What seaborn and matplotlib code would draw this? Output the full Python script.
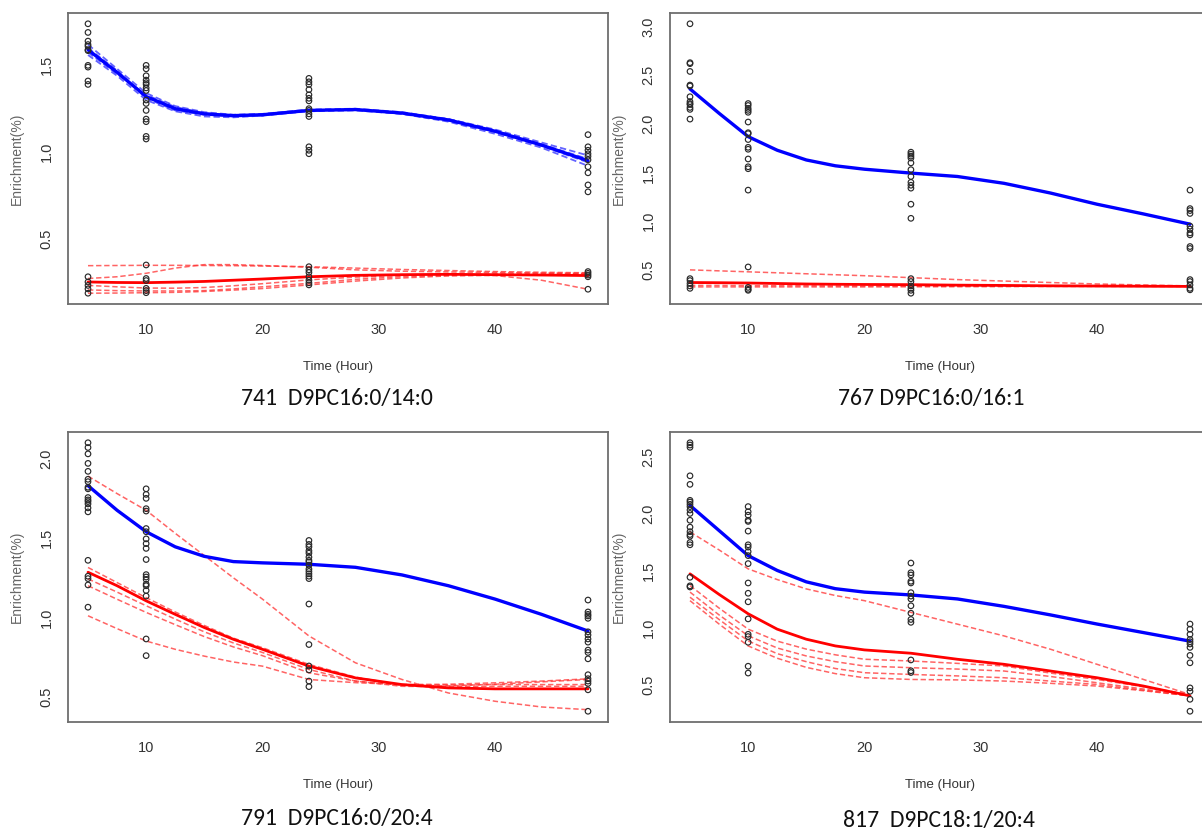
import matplotlib
matplotlib.use("Agg")
import matplotlib.pyplot as plt
import numpy as np
import pandas as pd
import seaborn as sns
from matplotlib import font_manager

# ---- sampling times -------------------------------------------------------
HOURS = [5, 10, 24, 48]
CURVE_T = [5, 7.5, 10, 12.5, 15, 17.5, 20, 24, 28, 32, 36, 40, 44, 48]
X_TICKS = [10, 20, 30, 40]

# ---- 741  D9PC16:0/14:0 ---------------------------------------------------
P741_H5 = [1.74, 1.69, 1.64, 1.62, 1.61, 1.59, 1.585, 1.50, 1.49, 1.41, 1.39,
           0.28, 0.25, 0.23, 0.21, 0.185]
P741_H10 = [1.50, 1.48, 1.44, 1.415, 1.40, 1.39, 1.37, 1.355, 1.30, 1.28, 1.24,
            1.19, 1.175, 1.09, 1.075, 0.348, 0.27, 0.258, 0.213, 0.20, 0.188]
P741_H24 = [1.425, 1.405, 1.39, 1.36, 1.33, 1.31, 1.295, 1.25, 1.24, 1.22, 1.205,
            1.03, 1.01, 0.99, 0.338, 0.32, 0.305, 0.28, 0.26, 0.245, 0.233]
P741_H48 = [1.10, 1.03, 1.01, 0.99, 0.975, 0.955, 0.915, 0.88, 0.81, 0.77,
            0.31, 0.30, 0.29, 0.28, 0.208]
P741_BLUE = [1.59, 1.46, 1.32, 1.25, 1.22, 1.21, 1.215, 1.24, 1.245, 1.225, 1.185, 1.12, 1.04, 0.95]
P741_BLUE_DASH = [
    [1.62, 1.48, 1.34, 1.265, 1.23, 1.215, 1.22, 1.245, 1.25, 1.23, 1.19, 1.13, 1.055, 0.98],
    [1.56, 1.44, 1.30, 1.235, 1.205, 1.20, 1.21, 1.235, 1.24, 1.22, 1.175, 1.105, 1.025, 0.92],
    [1.60, 1.47, 1.31, 1.24, 1.215, 1.205, 1.21, 1.24, 1.245, 1.225, 1.19, 1.125, 1.045, 0.96],
    [1.575, 1.45, 1.33, 1.26, 1.225, 1.21, 1.215, 1.24, 1.245, 1.22, 1.18, 1.115, 1.035, 0.94],
]
P741_RED = [0.25, 0.247, 0.246, 0.249, 0.253, 0.26, 0.267, 0.28, 0.288, 0.292, 0.294, 0.292, 0.29, 0.287]
P741_RED_DASH = [
    [0.344, 0.345, 0.346, 0.346, 0.345, 0.344, 0.342, 0.338, 0.33, 0.322, 0.316, 0.31, 0.306, 0.303],
    [0.204, 0.20, 0.198, 0.198, 0.20, 0.21, 0.222, 0.242, 0.265, 0.281, 0.288, 0.287, 0.26, 0.208],
    [0.185, 0.186, 0.188, 0.19, 0.195, 0.203, 0.212, 0.233, 0.255, 0.273, 0.285, 0.29, 0.295, 0.298],
    [0.23, 0.222, 0.215, 0.214, 0.218, 0.228, 0.24, 0.262, 0.278, 0.288, 0.293, 0.296, 0.296, 0.295],
    [0.27, 0.28, 0.30, 0.33, 0.35, 0.35, 0.345, 0.335, 0.32, 0.312, 0.308, 0.305, 0.302, 0.30],
]
P741_YTICKS = [0.5, 1.0, 1.5]

# ---- 767 D9PC16:0/16:1 ----------------------------------------------------
P767_H5 = [3.03, 2.63, 2.62, 2.54, 2.40, 2.39, 2.28, 2.23, 2.21, 2.20, 2.17, 2.15, 2.05,
           0.41, 0.39, 0.36, 0.335, 0.31]
P767_H10 = [2.21, 2.19, 2.16, 2.14, 2.12, 2.02, 1.91, 1.90, 1.84, 1.76, 1.74, 1.64, 1.56,
            1.54, 1.32, 0.53, 0.32, 0.30, 0.29]
P767_H24 = [1.71, 1.69, 1.67, 1.65, 1.60, 1.53, 1.46, 1.40, 1.37, 1.34, 1.175, 1.03,
            0.41, 0.38, 0.335, 0.31, 0.29, 0.26]
P767_H48 = [1.32, 1.13, 1.11, 1.08, 0.95, 0.92, 0.88, 0.86, 0.74, 0.72,
            0.40, 0.38, 0.345, 0.31, 0.295]
P767_BLUE = [2.36, 2.11, 1.87, 1.73, 1.63, 1.57, 1.535, 1.495, 1.46, 1.39, 1.29, 1.175, 1.075, 0.97]
P767_BLUE_DASH = []
P767_RED = [0.37, 0.368, 0.365, 0.36, 0.355, 0.352, 0.35, 0.348, 0.343, 0.34, 0.336, 0.334, 0.332, 0.33]
P767_RED_DASH = [
    [0.50, 0.49, 0.48, 0.47, 0.46, 0.45, 0.44, 0.42, 0.40, 0.385, 0.37, 0.355, 0.345, 0.335],
    [0.325, 0.325, 0.325, 0.325, 0.325, 0.325, 0.325, 0.326, 0.327, 0.328, 0.33, 0.33, 0.33, 0.33],
    [0.34, 0.34, 0.338, 0.337, 0.336, 0.335, 0.334, 0.333, 0.333, 0.334, 0.335, 0.337, 0.336, 0.335],
]
P767_YTICKS = [0.5, 1.0, 1.5, 2.0, 2.5, 3.0]

# ---- 791  D9PC16:0/20:4 ---------------------------------------------------
P791_H5 = [2.10, 2.07, 2.03, 1.97, 1.92, 1.87, 1.855, 1.82, 1.81, 1.755, 1.74, 1.73, 1.715,
           1.69, 1.665, 1.36, 1.26, 1.245, 1.205, 1.065]
P791_H10 = [1.81, 1.775, 1.75, 1.685, 1.67, 1.56, 1.54, 1.495, 1.465, 1.435, 1.365, 1.27,
            1.255, 1.24, 1.21, 1.20, 1.17, 1.135, 0.865, 0.76]
P791_H24 = [1.485, 1.46, 1.445, 1.42, 1.405, 1.38, 1.36, 1.35, 1.33, 1.305, 1.29, 1.275,
            1.26, 1.245, 1.085, 0.83, 0.695, 0.67, 0.60, 0.565]
P791_H48 = [1.11, 1.035, 1.02, 1.01, 0.995, 0.91, 0.89, 0.865, 0.845, 0.795, 0.78, 0.74,
            0.64, 0.615, 0.60, 0.585, 0.545, 0.41]
P791_BLUE = [1.83, 1.675, 1.54, 1.445, 1.385, 1.352, 1.344, 1.335, 1.316, 1.268, 1.20, 1.116, 1.02, 0.915]
P791_BLUE_DASH = []
P791_RED = [1.285, 1.20, 1.105, 1.02, 0.937, 0.863, 0.80, 0.694, 0.62, 0.578, 0.557, 0.551, 0.551, 0.551]
P791_RED_DASH = [
    [1.89, 1.78, 1.675, 1.53, 1.39, 1.25, 1.116, 0.884, 0.715, 0.61, 0.525, 0.473, 0.437, 0.42],
    [1.315, 1.22, 1.125, 1.035, 0.95, 0.87, 0.81, 0.705, 0.625, 0.575, 0.57, 0.58, 0.595, 0.61],
    [1.243, 1.16, 1.074, 0.99, 0.91, 0.84, 0.78, 0.673, 0.60, 0.567, 0.565, 0.567, 0.567, 0.567],
    [1.20, 1.115, 1.032, 0.955, 0.88, 0.815, 0.76, 0.652, 0.60, 0.575, 0.575, 0.578, 0.578, 0.578],
    [1.011, 0.93, 0.852, 0.80, 0.757, 0.72, 0.694, 0.61, 0.59, 0.578, 0.58, 0.589, 0.60, 0.614],
]
P791_YTICKS = [0.5, 1.0, 1.5, 2.0]

# ---- 817  D9PC18:1/20:4 ---------------------------------------------------
P817_H5 = [2.62, 2.60, 2.58, 2.33, 2.255, 2.115, 2.10, 2.08, 2.06, 2.03, 2.00, 1.94, 1.88,
           1.84, 1.815, 1.80, 1.745, 1.725, 1.44, 1.365, 1.355]
P817_H10 = [2.06, 2.015, 1.985, 1.94, 1.93, 1.845, 1.725, 1.705, 1.665, 1.63, 1.56, 1.39,
            1.30, 1.225, 1.075, 0.94, 0.92, 0.87, 0.66, 0.60]
P817_H24 = [1.565, 1.48, 1.46, 1.405, 1.39, 1.305, 1.275, 1.25, 1.19, 1.125, 1.07, 1.045,
            0.715, 0.62, 0.605]
P817_H48 = [1.03, 0.985, 0.94, 0.895, 0.875, 0.855, 0.825, 0.755, 0.69, 0.47, 0.44, 0.37, 0.265]
P817_BLUE = [2.07, 1.85, 1.63, 1.50, 1.40, 1.34, 1.31, 1.285, 1.25, 1.185, 1.11, 1.03, 0.955, 0.88]
P817_BLUE_DASH = []
P817_RED = [1.47, 1.29, 1.12, 0.985, 0.897, 0.838, 0.803, 0.774, 0.721, 0.677, 0.618, 0.559, 0.486, 0.40]
P817_RED_DASH = [
    [1.838, 1.68, 1.514, 1.42, 1.338, 1.28, 1.235, 1.132, 1.029, 0.926, 0.809, 0.677, 0.544, 0.412],
    [1.367, 1.17, 0.985, 0.88, 0.81, 0.76, 0.721, 0.706, 0.685, 0.662, 0.60, 0.544, 0.48, 0.412],
    [1.31, 1.11, 0.927, 0.82, 0.75, 0.70, 0.662, 0.647, 0.635, 0.618, 0.57, 0.515, 0.46, 0.40],
    [1.265, 1.07, 0.882, 0.77, 0.70, 0.64, 0.603, 0.588, 0.575, 0.559, 0.53, 0.50, 0.45, 0.40],
    [1.235, 1.03, 0.838, 0.73, 0.65, 0.595, 0.559, 0.544, 0.54, 0.53, 0.51, 0.486, 0.445, 0.40],
]
P817_YTICKS = [0.5, 1.0, 1.5, 2.0, 2.5]

TITLES = ["741  D9PC16:0/14:0", "767 D9PC16:0/16:1", "791  D9PC16:0/20:4", "817  D9PC18:1/20:4"]


def pick_font(candidates):
    names = {f.name for f in font_manager.fontManager.ttflist}
    for name in candidates:
        if name in names:
            return name
    return "DejaVu Sans"


sns.set_theme(style="white")
R_FONT = pick_font(["Liberation Sans Narrow", "Liberation Sans", "Arial"])
CAPTION_FONT = pick_font(["Carlito", "Lato", "Open Sans"])
plt.rcParams["font.family"] = [R_FONT, "DejaVu Sans"]

W, H = 1202, 831
fig = plt.figure(figsize=(W / 100, H / 100), dpi=100)
fig.patch.set_facecolor("white")

# axes boxes in pixels: (left, top, right, bottom)
BOXES = [(68, 13, 608, 304), (670, 13, 1210, 304), (68, 432, 608, 722), (670, 432, 1210, 722)]
CAPTION_XY = [(337, 399), (931, 398), (337, 818), (939, 821)]

panels = [
    ([P741_H5, P741_H10, P741_H24, P741_H48], P741_BLUE, P741_BLUE_DASH, P741_RED, P741_RED_DASH, P741_YTICKS),
    ([P767_H5, P767_H10, P767_H24, P767_H48], P767_BLUE, P767_BLUE_DASH, P767_RED, P767_RED_DASH, P767_YTICKS),
    ([P791_H5, P791_H10, P791_H24, P791_H48], P791_BLUE, P791_BLUE_DASH, P791_RED, P791_RED_DASH, P791_YTICKS),
    ([P817_H5, P817_H10, P817_H24, P817_H48], P817_BLUE, P817_BLUE_DASH, P817_RED, P817_RED_DASH, P817_YTICKS),
]

AX_GREY = "#6e6e6e"
DASH = (0, (3.5, 1.8))

for (pts, blue, blue_dash, red, red_dash, yticks), box, title, cxy in zip(panels, BOXES, TITLES, CAPTION_XY):
    l, t, r, b = box
    ax = fig.add_axes([l / W, 1 - b / H, (r - l) / W, (b - t) / H])
    ax.set_facecolor("white")

    df = pd.DataFrame({
        "hour": np.concatenate([[h] * len(v) for h, v in zip(HOURS, pts)]),
        "enrich": np.concatenate(pts),
    })

    # fitted curves: dashed replicates first, then the solid summary fits
    for d in blue_dash:
        sns.lineplot(x=CURVE_T, y=d, ax=ax, color="#3c3cff", lw=1.3, alpha=0.8,
                     linestyle=DASH, estimator=None, sort=False)
    for d in red_dash:
        sns.lineplot(x=CURVE_T, y=d, ax=ax, color="#ff3030", lw=1.1, alpha=0.75,
                     linestyle=DASH, estimator=None, sort=False)
    sns.lineplot(x=CURVE_T, y=blue, ax=ax, color="#0000ff", lw=2.4,
                 estimator=None, sort=False)
    sns.lineplot(x=CURVE_T, y=red, ax=ax, color="#ff0000", lw=2.0,
                 estimator=None, sort=False)

    sns.scatterplot(data=df, x="hour", y="enrich", ax=ax, marker="o", s=16,
                    facecolor="none", edgecolor="#2a2a2a", linewidth=0.85, zorder=5)

    # R-style 4% axis expansion
    allv = np.concatenate([df["enrich"].values, blue, red] + [np.asarray(d) for d in red_dash + blue_dash])
    lo, hi = allv.min(), allv.max()
    pad = 0.04 * (hi - lo)
    ax.set_ylim(lo - pad, hi + pad)
    xpad = 0.04 * (max(HOURS) - min(HOURS))
    ax.set_xlim(min(HOURS) - xpad, max(HOURS) + xpad)

    ax.set_xticks(X_TICKS)
    ax.set_xticklabels([str(v) for v in X_TICKS])
    ax.set_yticks(yticks)
    ax.set_yticklabels([f"{v:.1f}" for v in yticks], rotation=90, va="center")

    for s in ax.spines.values():
        s.set_visible(True)
        s.set_color(AX_GREY)
        s.set_linewidth(1.3)
    ax.tick_params(axis="both", which="major", direction="out", length=5.5, width=1.0,
                   color=AX_GREY, labelcolor="#333333", labelsize=10.5)
    ax.tick_params(axis="x", pad=8)
    ax.tick_params(axis="y", pad=5)
    ax.grid(False)

    ax.set_xlabel("Time (Hour)", fontsize=9.5, color="#333333")
    ax.xaxis.set_label_coords(0.5, -63 / (b - t))
    ax.xaxis.label.set_va("center")
    ax.set_ylabel("Enrichment(%)", fontsize=10, color="#666666")
    ax.yaxis.set_label_coords(-51 / (r - l), 0.5)
    ax.yaxis.label.set_va("center")

    fig.text(cxy[0] / W, 1 - cxy[1] / H, title, ha="center", va="center",
             fontsize=17, color="#111111", family=[CAPTION_FONT, "DejaVu Sans"])

fig.savefig("out.png", dpi=100, facecolor="white")
